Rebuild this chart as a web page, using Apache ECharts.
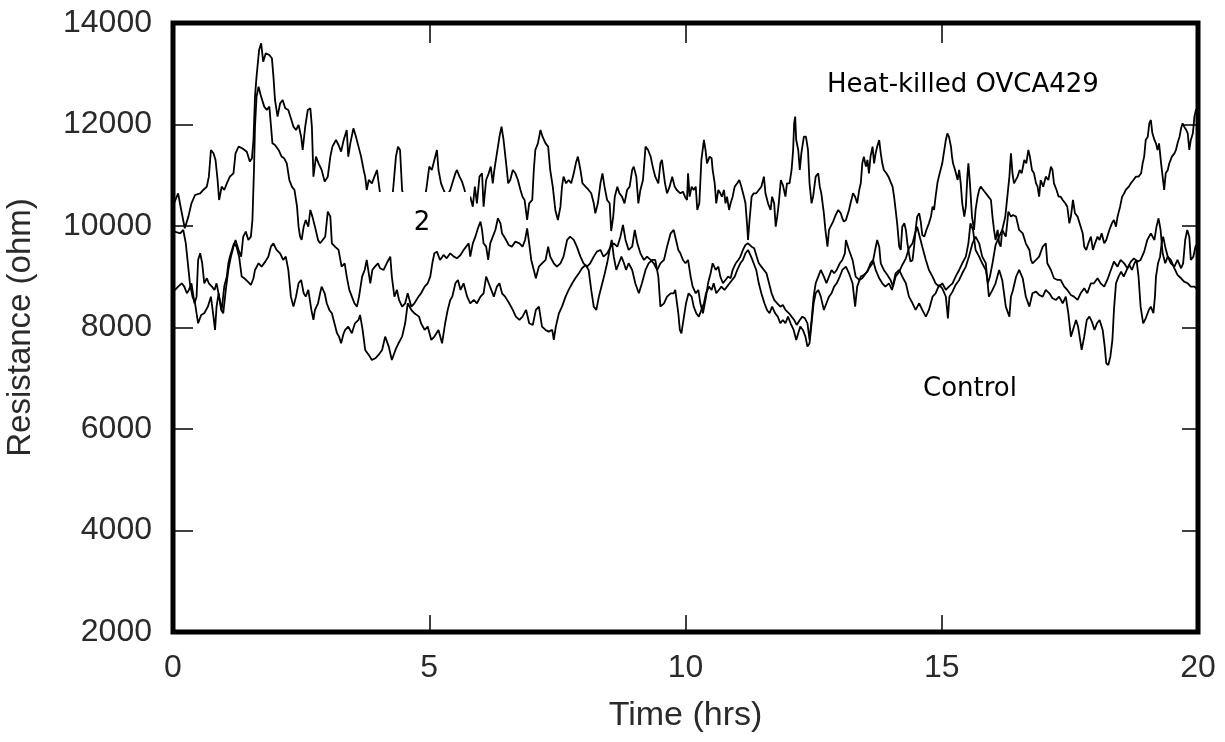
<!DOCTYPE html>
<html>
<head>
<meta charset="utf-8">
<script src="https://cdn.jsdelivr.net/npm/echarts@6/dist/echarts.min.js"></script>
<style>
html,body{margin:0;padding:0;background:#fff;}
#chart{width:1225px;height:742px;}
</style>
</head>
<body>
<div id="chart"></div>
<script>
// Axis ticks
const xTicks = [0, 5, 10, 15, 20];
const yTicks = [2000, 4000, 6000, 8000, 10000, 12000, 14000];

// Annotation labels
const labelTop = 'Heat-killed OVCA429';
const labelMid = '2';
const labelLow = 'Control';

// Trace 1 (upper trace) : [time (hrs), resistance (ohm)]
const traceUpper = [[0,10400],[0.10,10644],[0.16,10316],[0.23,9955],[0.30,10185],[0.36,10447],[0.43,10611],[0.53,10644],[0.59,10710],[0.66,10775],[0.70,10972],[0.74,11498],[0.79,11432],[0.83,11301],[0.87,10907],[0.90,10513],[0.95,10775],[1.00,10710],[1.05,10841],[1.11,10972],[1.18,11038],[1.22,11432],[1.28,11564],[1.35,11531],[1.44,11465],[1.50,11268],[1.54,11334],[1.57,11695],[1.60,12549],[1.63,12943],[1.68,13468],[1.72,13599],[1.76,13238],[1.81,13402],[1.88,13369],[1.93,13304],[1.96,12943],[1.99,12483],[2.04,12155],[2.09,12417],[2.14,12483],[2.19,12319],[2.25,12286],[2.30,12122],[2.35,11958],[2.40,11892],[2.45,11990],[2.50,11760],[2.53,11498],[2.58,11958],[2.63,12286],[2.68,12319],[2.71,11958],[2.74,10972],[2.79,11367],[2.84,11235],[2.90,11104],[2.96,10874],[3.02,10972],[3.07,11367],[3.11,11564],[3.18,11695],[3.23,11596],[3.28,11465],[3.33,11695],
[3.39,11892],[3.42,11367],[3.46,11629],[3.52,11925],[3.57,11760],[3.62,11564],[3.67,11367],[3.72,11104],[3.75,10972],[3.78,10710],[3.82,10907],[3.88,10841],[3.93,10972],[3.98,11104],[4.01,11137],[4.04,10644],[4.14,10185],[4.27,10447],[4.30,10775],[4.35,11367],[4.39,11564],[4.43,11498],[4.47,10710],[4.56,10316],[4.69,10578],[4.79,10447],[4.92,10578],[4.95,10775],[5.00,11170],[5.05,11104],[5.10,11301],[5.15,11498],[5.18,11104],[5.23,10841],[5.28,10710],[5.34,10578],[5.41,10710],[5.45,10841],[5.51,11038],[5.54,11104],[5.59,10972],[5.64,10874],[5.69,10710],[5.73,10447],[5.80,10578],[5.85,10381],[5.89,10775],[5.93,10447],[5.98,10972],[6.03,11038],[6.06,10381],[6.11,10907],[6.16,11038],[6.20,11170],[6.24,10841],[6.27,11104],[6.32,11432],[6.37,11760],[6.41,11958],[6.45,11695],[6.50,11235],[6.54,10841],[6.58,10907],[6.63,11104],[6.68,11038],
[6.73,10907],[6.78,10710],[6.82,10578],[6.86,10513],[6.91,10119],[6.95,10447],[7.01,10513],[7.04,11104],[7.07,11498],[7.12,11629],[7.17,11892],[7.21,11760],[7.27,11629],[7.32,11564],[7.36,11104],[7.41,10775],[7.46,10316],[7.51,10119],[7.56,10381],[7.59,10775],[7.62,10972],[7.67,10841],[7.72,10907],[7.77,10841],[7.82,11038],[7.86,11235],[7.90,11367],[7.95,11104],[7.99,10841],[8.05,10775],[8.11,10710],[8.16,10644],[8.21,10447],[8.24,10250],[8.29,10447],[8.34,10841],[8.38,11038],[8.42,10775],[8.47,10513],[8.52,10447],[8.55,9900],[8.59,10185],[8.62,10578],[8.67,10775],[8.71,10644],[8.76,10578],[8.81,10447],[8.86,10710],[8.91,10775],[8.96,11104],[8.99,11170],[9.04,10972],[9.08,10447],[9.12,10710],[9.17,10907],[9.22,11564],[9.27,11498],[9.32,11367],[9.36,11170],[9.41,10972],[9.47,10841],[9.51,11235],[9.54,11301],[9.60,10841],[9.64,10644],[9.69,10775],[9.74,10972],[9.79,10775],
[9.83,10710],[9.90,10644],[9.95,10677],[9.99,10578],[10.03,10513],[10.05,11038],[10.08,10578],[10.12,10775],[10.16,10710],[10.20,10775],[10.23,10316],[10.27,10447],[10.31,11301],[10.36,11695],[10.39,11498],[10.42,11235],[10.47,11367],[10.51,11334],[10.53,11104],[10.57,10841],[10.60,10447],[10.64,10710],[10.68,10644],[10.71,10578],[10.75,10710],[10.78,10447],[10.81,10578],[10.85,10316],[10.88,10447],[10.92,10578],[10.96,10775],[11.01,10841],[11.05,10907],[11.09,10775],[11.14,10578],[11.17,10447],[11.20,10053],[11.22,9725],[11.25,10119],[11.29,10578],[11.33,10644],[11.38,10644],[11.43,10710],[11.48,10775],[11.53,10972],[11.56,10644],[11.61,10447],[11.66,10316],[11.69,10578],[11.73,10447],[11.76,9987],[11.79,10185],[11.82,10447],[11.86,10907],[11.90,10808],[11.95,10578],[11.98,10841],[12.03,10841],[12.07,11104],[12.10,11498],[12.12,12023],[12.14,12155],[12.16,11695],[12.20,11498],[12.23,11104],[12.26,11432],[12.31,11760],[12.35,11760],[12.39,11498],[12.42,10841],[12.46,10447],[12.49,10578],[12.54,10972],[12.59,11038],[12.62,10775],[12.65,10644],[12.70,10250],[12.73,9922],[12.77,9593],[12.80,9922],[12.83,9987],[12.88,10086],[12.93,10217],[12.98,10316],[13.03,10250],[13.06,10152],[13.09,10086],
[13.13,10119],[13.19,10316],[13.22,10447],[13.27,10644],[13.31,10578],[13.35,10447],[13.39,10710],[13.42,10841],[13.45,11235],[13.48,11367],[13.52,11170],[13.55,11301],[13.58,11038],[13.61,11367],[13.65,11564],[13.68,11235],[13.71,11432],[13.74,11564],[13.78,11695],[13.81,11432],[13.84,11235],[13.87,11104],[13.92,11038],[13.96,10972],[14.00,10874],[14.04,10775],[14.07,10578],[14.10,10316],[14.13,10053],[14.17,9593],[14.20,9528],[14.23,9987],[14.27,10053],[14.30,9922],[14.33,9659],[14.36,9462],[14.39,9298],[14.43,9331],[14.46,9593],[14.49,9922],[14.52,10185],[14.56,10250],[14.59,10086],[14.62,9823],[14.66,9790],[14.70,9922],[14.75,10053],[14.79,10185],[14.82,10381],[14.85,10316],[14.88,10578],[14.92,10874],[14.96,11038],[15.01,11235],[15.05,11498],[15.08,11695],[15.11,11826],[15.14,11760],[15.18,11564],[15.20,11367],[15.22,11235],[15.26,11104],[15.31,10907],[15.34,11104],[15.37,10841],[15.40,10447],[15.44,10185],[15.47,10381],[15.50,10972],[15.52,11235],[15.55,10841],[15.59,10185],[15.63,9922],[15.66,10316],[15.70,10578],[15.73,10710],[15.76,10775],[15.81,10710],[15.86,10644],[15.91,10578],[15.96,10513],[15.99,10185],[16.02,9922],[16.05,9725],[16.09,9922],[16.12,9659],[16.15,9593],[16.18,9922],[16.24,10185],[16.28,10578],[16.32,10972],[16.35,11432],[16.38,11038],[16.41,10841],
[16.48,10972],[16.52,11104],[16.56,11038],[16.61,11301],[16.65,11235],[16.69,11498],[16.72,11367],[16.76,11104],[16.80,11038],[16.84,10841],[16.87,10775],[16.90,10578],[16.93,10907],[16.98,10775],[17.03,10972],[17.08,10907],[17.13,11170],[17.16,11104],[17.19,10841],[17.24,10710],[17.28,10578],[17.32,10578],[17.36,10513],[17.41,10447],[17.45,10381],[17.49,10053],[17.52,10185],[17.56,10513],[17.60,10250],[17.65,10185],[17.69,10053],[17.75,9856],[17.78,9593],[17.82,9528],[17.86,9659],[17.91,9790],[17.95,9528],[17.99,9659],[18.04,9790],[18.08,9725],[18.12,9856],[18.17,9659],[18.21,9725],[18.27,9922],[18.32,10053],[18.36,10119],[18.40,9987],[18.43,10185],[18.48,10381],[18.52,10578],[18.56,10644],[18.59,10710],[18.65,10775],[18.69,10841],[18.74,10907],[18.79,10972],[18.84,10972],[18.89,11038],[18.92,11235],[18.95,11367],[18.98,11695],[19.02,11760],[19.05,12023],[19.08,12089],[19.11,11826],[19.15,11695],[19.18,11629],[19.21,11498],[19.24,11629],[19.28,11235],[19.31,10972],[19.34,10710],[19.37,11038],[19.41,11104],[19.44,11235],[19.49,11367],[19.54,11432],[19.57,11498],[19.60,11629],[19.64,11760],[19.67,11925],[19.70,12023],[19.73,11958],[19.77,11892],[19.80,11826],[19.83,11498],[19.86,11695],[19.90,11826],[19.93,12155],[19.96,12286],[20.00,12319]];

// Trace 2 (middle trace)
const traceMiddle = [[0,9900],[0.14,9856],[0.20,9922],[0.25,9659],[0.29,9265],[0.33,8871],[0.38,8608],[0.43,8477],[0.49,8083],[0.55,8247],[0.61,8280],[0.68,8411],[0.74,8608],[0.79,8214],[0.82,7952],[0.85,8411],[0.89,8674],[0.94,8346],[0.98,8280],[1.03,8740],[1.08,9134],[1.13,9396],[1.18,9593],[1.22,9725],[1.28,9528],[1.33,9396],[1.37,9790],[1.42,9889],[1.47,9725],[1.52,9790],[1.55,10119],[1.58,11104],[1.60,11958],[1.63,12549],[1.67,12746],[1.71,12581],[1.74,12549],[1.78,12352],[1.83,12286],[1.88,12352],[1.91,11990],[1.94,11629],[1.99,11596],[2.06,11498],[2.12,11367],[2.17,11334],[2.22,11235],[2.27,10907],[2.32,10775],[2.37,10710],[2.42,10381],[2.45,9987],[2.48,9790],[2.51,9725],[2.55,9987],[2.59,10119],[2.64,9987],[2.68,10316],[2.72,10185],[2.77,9987],[2.83,9725],[2.87,9659],[2.92,9725],[2.97,9790],[3.02,10283],[3.07,10185],[3.10,9659],[3.16,9593],
[3.23,9528],[3.29,9200],[3.35,9265],[3.39,9003],[3.44,8740],[3.49,8608],[3.54,8477],[3.59,8411],[3.63,8608],[3.69,9003],[3.74,9134],[3.78,9331],[3.82,9068],[3.85,8871],[3.89,9134],[3.94,9200],[4.00,9265],[4.04,9167],[4.11,9134],[4.17,9265],[4.24,9396],[4.27,9003],[4.32,8608],[4.37,8740],[4.41,8543],[4.47,8411],[4.53,8477],[4.58,8674],[4.65,8411],[4.71,8477],[4.79,8608],[4.84,8674],[4.91,8806],[4.97,8871],[5.02,9003],[5.06,9265],[5.10,9462],[5.15,9495],[5.21,9331],[5.28,9429],[5.34,9363],[5.41,9462],[5.48,9396],[5.54,9363],[5.61,9429],[5.67,9528],[5.72,9593],[5.77,9659],[5.80,9396],[5.85,9659],[5.90,9790],[5.95,9955],[6.00,10086],[6.03,9922],[6.06,9659],[6.11,9593],[6.15,9331],[6.19,9659],[6.24,9790],[6.29,9922],[6.34,10152],[6.39,10053],[6.42,9856],
[6.48,9758],[6.55,9626],[6.61,9593],[6.68,9692],[6.76,9659],[6.82,9593],[6.87,9725],[6.91,9955],[6.95,9659],[6.99,9331],[7.04,9134],[7.08,8970],[7.14,9200],[7.20,9265],[7.27,9331],[7.32,9593],[7.36,9396],[7.43,9265],[7.49,9200],[7.56,9265],[7.62,9396],[7.69,9725],[7.75,9790],[7.82,9725],[7.88,9593],[7.95,9396],[8.01,9265],[8.08,9200],[8.14,9265],[8.21,9396],[8.27,9495],[8.34,9528],[8.40,9396],[8.47,9462],[8.54,9593],[8.60,9659],[8.67,9593],[8.73,9790],[8.78,10020],[8.83,9725],[8.89,9528],[8.96,9593],[9.01,9922],[9.06,9659],[9.12,9462],[9.19,9331],[9.25,9396],[9.32,9331],[9.38,9265],[9.45,9134],[9.51,9265],[9.58,9331],[9.64,9593],[9.71,9856],[9.77,9922],
[9.80,9922],[9.86,9528],[9.90,9462],[9.95,9331],[10.00,9265],[10.05,9331],[10.10,9003],[10.14,8806],[10.20,8674],[10.25,8740],[10.29,8477],[10.34,8280],[10.39,8543],[10.44,8871],[10.49,9068],[10.53,9265],[10.59,9134],[10.64,9200],[10.68,9003],[10.73,8871],[10.78,8937],[10.83,9003],[10.88,8970],[10.92,9134],[10.98,9265],[11.03,9331],[11.07,9396],[11.12,9528],[11.17,9626],[11.22,9659],[11.29,9593],[11.34,9560],[11.39,9396],[11.43,9265],[11.48,9200],[11.53,9134],[11.58,9068],[11.63,8871],[11.68,8674],[11.73,8543],[11.79,8477],[11.85,8411],[11.90,8444],[11.95,8346],[12.02,8280],[12.07,8214],[12.12,8149],[12.17,8050],[12.23,8149],[12.28,8214],[12.33,8181],[12.38,8083],[12.42,7755],[12.46,8149],[12.50,8608],[12.54,8871],[12.59,9003],[12.64,9134],[12.70,9003],[12.75,8871],[12.80,9003],[12.85,9134],[12.90,9068],[12.95,9134],[13.01,9265],[13.06,9331],[13.11,9462],
[13.13,9725],[13.19,9528],[13.26,9331],[13.32,9003],[13.39,8937],[13.45,8970],[13.52,9068],[13.58,9167],[13.65,9265],[13.70,9528],[13.74,9725],[13.78,9593],[13.81,9265],[13.87,9134],[13.94,9036],[14.00,8937],[14.05,8806],[14.10,9003],[14.17,9101],[14.23,9232],[14.30,9363],[14.36,9560],[14.43,9659],[14.48,9856],[14.52,9987],[14.57,9790],[14.62,9593],[14.69,9331],[14.75,9134],[14.82,9003],[14.88,8871],[14.95,8806],[15.01,8871],[15.08,8740],[15.14,8806],[15.21,8871],[15.27,9003],[15.34,9134],[15.40,9265],[15.47,9396],[15.52,9659],[15.56,10053],[15.61,9922],[15.66,9528],[15.73,9396],[15.79,9265],[15.86,9134],[15.90,8871],[15.94,9003],[15.99,9265],[16.05,9626],[16.12,9790],[16.18,9922],[16.25,9790],[16.30,10283],[16.35,10185],[16.39,10217],
[16.45,10185],[16.51,9922],[16.58,9856],[16.64,9659],[16.71,9528],[16.74,9331],[16.77,9265],[16.84,9331],[16.90,9396],[16.97,9593],[17.03,9659],[17.06,9265],[17.13,9134],[17.19,8970],[17.26,8937],[17.32,8937],[17.39,8806],[17.45,8740],[17.52,8641],[17.58,8608],[17.65,8543],[17.71,8674],[17.78,8773],[17.84,8674],[17.91,8871],[17.97,8871],[18.04,8970],[18.10,8871],[18.17,8806],[18.23,8937],[18.30,9134],[18.36,9298],[18.43,9200],[18.49,9331],[18.56,9265],[18.62,9167],[18.69,9298],[18.75,9363],[18.82,9298],[18.88,9331],[18.95,9495],[19.01,9725],[19.08,9856],[19.15,9725],[19.19,9987],[19.23,10152],[19.27,9922],[19.31,9462],[19.36,9265],[19.41,9396],[19.47,9331],[19.54,9167],[19.60,9036],[19.67,8970],[19.73,8904],[19.80,8871],[19.86,8806],[19.93,8806],[20.00,8740]];

// Trace 3 (lower trace)
const traceLower = [[0,8800],[0.04,8740],[0.10,8806],[0.17,8871],[0.22,8806],[0.27,8674],[0.31,8740],[0.36,8871],[0.42,8477],[0.46,8608],[0.49,9331],[0.53,9462],[0.57,9265],[0.61,8871],[0.66,8970],[0.70,8871],[0.76,8806],[0.81,8740],[0.85,8871],[0.90,8608],[0.95,8346],[1.00,8806],[1.05,9003],[1.08,9265],[1.11,9396],[1.15,9528],[1.19,9659],[1.24,9593],[1.29,9396],[1.34,9003],[1.39,8970],[1.46,8904],[1.52,8838],[1.57,8970],[1.60,9134],[1.67,9265],[1.73,9200],[1.80,9298],[1.86,9396],[1.91,9593],[1.96,9659],[2.02,9528],[2.09,9462],[2.15,9331],[2.20,9396],[2.25,9134],[2.30,8608],[2.35,8411],[2.40,8608],[2.45,8871],[2.50,8937],[2.55,8674],[2.59,8608],[2.64,8740],[2.70,8346],[2.74,8149],[2.77,8346],[2.83,8477],[2.87,8674],[2.90,8806],[2.96,8674],[3.00,8477],[3.05,8346],[3.10,8280],[3.15,8083],[3.20,7886],[3.24,7820],[3.28,7689],[3.33,7886],
[3.36,7952],[3.42,8018],[3.49,7886],[3.55,8083],[3.62,8149],[3.65,8247],[3.70,7952],[3.75,7558],[3.82,7460],[3.88,7361],[3.95,7394],[4.01,7460],[4.08,7558],[4.14,7820],[4.21,7623],[4.27,7361],[4.34,7558],[4.40,7689],[4.47,7820],[4.53,8083],[4.58,8477],[4.65,8346],[4.71,8280],[4.80,8214],[4.84,8083],[4.91,7952],[4.97,8018],[5.04,7755],[5.10,7820],[5.18,7952],[5.25,7689],[5.31,8083],[5.36,8346],[5.41,8543],[5.45,8608],[5.51,8871],[5.56,8937],[5.61,8740],[5.67,8871],[5.74,8608],[5.80,8477],[5.87,8543],[5.93,8477],[6.00,8608],[6.06,8674],[6.11,9003],[6.16,8871],[6.21,8740],[6.26,8608],[6.32,8806],[6.37,8871],[6.42,8674],
[6.48,8608],[6.56,8477],[6.63,8346],[6.69,8214],[6.76,8149],[6.82,8214],[6.89,8346],[6.95,8083],[7.02,8050],[7.08,8346],[7.14,8411],[7.20,8018],[7.27,7952],[7.33,7919],[7.40,7952],[7.43,7755],[7.47,8018],[7.53,8280],[7.59,8411],[7.66,8608],[7.72,8740],[7.79,8871],[7.85,8970],[7.92,9068],[7.98,9167],[8.05,9232],[8.11,9134],[8.16,8740],[8.21,8411],[8.26,8346],[8.31,8608],[8.36,8806],[8.41,9003],[8.47,9265],[8.52,9528],[8.56,9725],[8.60,9396],[8.65,9134],[8.70,9265],[8.75,9396],[8.80,9265],[8.84,9134],[8.89,9265],[8.96,9134],[9.02,8871],[9.09,8674],[9.15,8871],[9.22,9134],[9.28,9265],[9.35,9331],[9.41,9331],[9.47,9003],[9.51,8411],[9.58,8477],[9.64,8608],[9.71,8674],[9.77,8674],
[9.80,8740],[9.86,8280],[9.89,7952],[9.92,7886],[9.96,8149],[10.01,8477],[10.06,8674],[10.12,8608],[10.16,8411],[10.21,8280],[10.26,8214],[10.31,8346],[10.36,8477],[10.40,8674],[10.46,8806],[10.51,8740],[10.55,8871],[10.60,8674],[10.65,8740],[10.70,8806],[10.76,8740],[10.81,8806],[10.86,8871],[10.91,8937],[10.96,9003],[11.01,9134],[11.07,9265],[11.12,9331],[11.17,9462],[11.22,9528],[11.28,9396],[11.33,9265],[11.38,9134],[11.43,8871],[11.48,8674],[11.54,8477],[11.59,8346],[11.64,8280],[11.69,8411],[11.75,8280],[11.80,8214],[11.85,8083],[11.90,8149],[11.95,8083],[12.00,8214],[12.05,8083],[12.11,7952],[12.16,7755],[12.20,7886],[12.24,8018],[12.29,7952],[12.34,7820],[12.38,7623],[12.42,7689],[12.46,8083],[12.50,8477],[12.54,8674],[12.59,8740],[12.64,8608],[12.70,8346],[12.75,8477],[12.80,8608],[12.85,8674],[12.90,8806],[12.95,8871],[13.01,9003],[13.06,9134],
[13.13,9200],[13.19,9068],[13.26,8871],[13.31,8411],[13.35,8806],[13.42,9003],[13.48,9036],[13.55,9101],[13.61,9265],[13.66,9331],[13.71,9134],[13.78,8970],[13.84,8871],[13.90,8806],[13.97,8871],[14.03,8740],[14.10,9068],[14.17,9134],[14.23,9003],[14.30,8871],[14.36,8608],[14.43,8477],[14.49,8346],[14.56,8477],[14.62,8346],[14.69,8214],[14.75,8346],[14.82,8608],[14.88,8674],[14.95,8838],[15.01,8773],[15.08,8608],[15.12,8181],[15.15,8608],[15.21,8707],[15.27,8838],[15.34,8937],[15.40,9068],[15.47,9200],[15.53,9396],[15.60,9659],[15.66,9790],[15.73,9659],[15.79,9396],[15.86,9265],[15.92,8608],[15.99,8740],[16.05,8871],[16.12,9134],[16.18,8937],[16.25,8411],[16.32,8214],[16.35,8608],[16.39,8740],
[16.45,9000],[16.51,9134],[16.58,8970],[16.64,8608],[16.71,8411],[16.77,8674],[16.84,8707],[16.90,8641],[16.97,8608],[17.03,8740],[17.10,8674],[17.16,8576],[17.23,8543],[17.29,8608],[17.36,8477],[17.42,8608],[17.47,8280],[17.52,7820],[17.56,7952],[17.62,8149],[17.66,8018],[17.70,7755],[17.73,7558],[17.78,7820],[17.83,8149],[17.88,8214],[17.93,8116],[17.98,7952],[18.03,8083],[18.08,8149],[18.14,7952],[18.18,7623],[18.21,7295],[18.25,7262],[18.29,7426],[18.33,7755],[18.36,8346],[18.40,8871],[18.45,9003],[18.50,9101],[18.55,9003],[18.61,9134],[18.66,9232],[18.71,9134],[18.76,9265],[18.80,9331],[18.84,9003],[18.88,8411],[18.93,8083],[18.98,8181],[19.04,8346],[19.08,8411],[19.13,8280],[19.16,8608],[19.18,9003],[19.22,9265],[19.26,9396],[19.29,9659],[19.32,9790],[19.36,9593],[19.41,9396],[19.47,9265],[19.54,9200],[19.60,9331],[19.67,9167],[19.71,9265],[19.75,9725],[19.79,9922],[19.83,9790],[19.86,9331],[19.91,9396],[19.95,9593],[20.00,9659]];

const chart = echarts.init(document.getElementById('chart'), null, {renderer: 'canvas'});

const tickFont = {fontFamily: 'Liberation Sans, Arial, sans-serif', fontSize: 32, color: '#2a2a2a'};
const annFont = '26px "DejaVu Sans", Verdana, sans-serif';
const plain = function (v) { return String(v); };

const baseX = {
  type: 'value', min: xTicks[0], max: xTicks[xTicks.length - 1], interval: xTicks[1] - xTicks[0],
  splitLine: {show: false}, axisLine: {show: false, onZero: false}
};
const baseY = {
  type: 'value', min: yTicks[0], max: yTicks[yTicks.length - 1], interval: yTicks[1] - yTicks[0],
  splitLine: {show: false}, axisLine: {show: false, onZero: false}
};

function lineSeries(name, data) {
  return {
    name: name, type: 'line', data: data, xAxisIndex: 0, yAxisIndex: 0,
    showSymbol: false, symbol: 'none', smooth: false, animation: false,
    lineStyle: {color: '#000', width: 1.8}, z: 3
  };
}

chart.setOption({
  animation: false,
  backgroundColor: '#fff',
  grid: {left: 173, right: 27, top: 23, bottom: 110, containLabel: false, outerBoundsMode: 'none',
         show: true, borderColor: '#000', borderWidth: 5, backgroundColor: 'transparent'},
  xAxis: [
    Object.assign({}, baseX, {
      position: 'bottom',
      axisTick: {show: true, inside: true, length: 17, lineStyle: {color: '#000', width: 1.5}},
      axisLabel: Object.assign({margin: 20, formatter: plain}, tickFont),
      name: 'Time (hrs)', nameLocation: 'middle', nameGap: 67,
      nameTextStyle: {fontFamily: 'Liberation Sans, Arial, sans-serif', fontSize: 34, color: '#2a2a2a'}
    }),
    Object.assign({}, baseX, {
      position: 'top',
      axisTick: {show: true, inside: true, length: 20, lineStyle: {color: '#000', width: 1.5}},
      axisLabel: {show: false}
    })
  ],
  yAxis: [
    Object.assign({}, baseY, {
      position: 'left',
      axisTick: {show: true, inside: true, length: 20, lineStyle: {color: '#000', width: 1.5}},
      axisLabel: Object.assign({margin: 21, formatter: plain}, tickFont),
      name: 'Resistance (ohm)', nameLocation: 'middle', nameGap: 136,
      nameTextStyle: {fontFamily: 'Liberation Sans, Arial, sans-serif', fontSize: 33, color: '#2a2a2a'}
    }),
    Object.assign({}, baseY, {
      position: 'right',
      axisTick: {show: true, inside: true, length: 16, lineStyle: {color: '#000', width: 1.5}},
      axisLabel: {show: false}
    })
  ],
  series: [
    lineSeries('upper', traceUpper),
    lineSeries('middle', traceMiddle),
    lineSeries('lower', traceLower)
  ],
  graphic: [
    {type: 'rect', shape: {x: 364, y: 192, width: 106, height: 48}, style: {fill: '#fff'}, z: 50, silent: true},
    {type: 'text', x: 422, y: 223, z: 60, style: {text: labelMid, font: annFont, fill: '#000', textAlign: 'center', textVerticalAlign: 'middle'}},
    {type: 'text', x: 827, y: 85, z: 60, style: {text: labelTop, font: annFont, fill: '#000', textAlign: 'left', textVerticalAlign: 'middle'}},
    {type: 'text', x: 923, y: 389, z: 60, style: {text: labelLow, font: annFont, fill: '#000', textAlign: 'left', textVerticalAlign: 'middle'}}
  ]
});
</script>
</body>
</html>
